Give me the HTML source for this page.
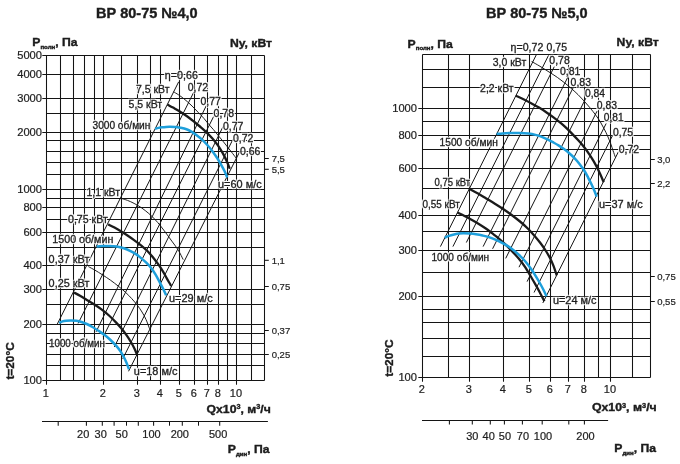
<!DOCTYPE html>
<html lang="ru"><head><meta charset="utf-8"><title>ВР 80-75</title>
<style>
html,body{margin:0;padding:0;background:#fff;}
svg{display:block;font-family:"Liberation Sans", Arial, sans-serif;}
text{white-space:pre;}
.h{filter:url(#halo);}
.h{stroke:#1e1e1e;stroke-width:0.3px;}
.n{stroke:#1e1e1e;stroke-width:0.2px;}
.b{font-weight:bold;stroke:#1c1c1c;stroke-width:0.4px;}
</style></head><body>
<svg width="680" height="464" viewBox="0 0 680 464">
<defs><filter id="halo" color-interpolation-filters="sRGB" x="-10%" y="-30%" width="120%" height="160%"><feMorphology in="SourceAlpha" operator="dilate" radius="1.25" result="d"/><feFlood flood-color="#fff"/><feComposite in2="d" operator="in" result="hh"/><feMerge><feMergeNode in="hh"/><feMergeNode in="SourceGraphic"/></feMerge></filter></defs>
<rect width="680" height="464" fill="#fff"/>
<line x1="46.50" y1="55.50" x2="46.50" y2="384.80" stroke="#141414" stroke-width="1.05" />
<line x1="60.50" y1="55.50" x2="60.50" y2="380.50" stroke="#141414" stroke-width="1.05" />
<line x1="73.50" y1="55.50" x2="73.50" y2="380.50" stroke="#141414" stroke-width="1.05" />
<line x1="84.50" y1="55.50" x2="84.50" y2="380.50" stroke="#141414" stroke-width="1.05" />
<line x1="94.50" y1="55.50" x2="94.50" y2="380.50" stroke="#141414" stroke-width="1.05" />
<line x1="103.50" y1="55.50" x2="103.50" y2="384.80" stroke="#141414" stroke-width="1.05" />
<line x1="121.50" y1="55.50" x2="121.50" y2="380.50" stroke="#141414" stroke-width="1.05" />
<line x1="137.50" y1="55.50" x2="137.50" y2="384.80" stroke="#141414" stroke-width="1.05" />
<line x1="150.50" y1="55.50" x2="150.50" y2="380.50" stroke="#141414" stroke-width="1.05" />
<line x1="160.50" y1="55.50" x2="160.50" y2="384.80" stroke="#141414" stroke-width="1.05" />
<line x1="179.50" y1="55.50" x2="179.50" y2="384.80" stroke="#141414" stroke-width="1.05" />
<line x1="194.50" y1="55.50" x2="194.50" y2="384.80" stroke="#141414" stroke-width="1.05" />
<line x1="207.50" y1="55.50" x2="207.50" y2="384.80" stroke="#141414" stroke-width="1.05" />
<line x1="218.50" y1="55.50" x2="218.50" y2="384.80" stroke="#141414" stroke-width="1.05" />
<line x1="227.50" y1="55.50" x2="227.50" y2="380.50" stroke="#141414" stroke-width="1.05" />
<line x1="236.50" y1="55.50" x2="236.50" y2="384.80" stroke="#141414" stroke-width="1.05" />
<line x1="251.50" y1="55.50" x2="251.50" y2="380.50" stroke="#141414" stroke-width="1.05" />
<line x1="264.50" y1="55.50" x2="264.50" y2="380.50" stroke="#141414" stroke-width="1.05" />
<line x1="42.30" y1="55.50" x2="264.50" y2="55.50" stroke="#141414" stroke-width="1.05" />
<line x1="42.30" y1="74.50" x2="264.50" y2="74.50" stroke="#141414" stroke-width="1.05" />
<line x1="42.30" y1="98.50" x2="264.50" y2="98.50" stroke="#141414" stroke-width="1.05" />
<line x1="46.50" y1="113.50" x2="264.50" y2="113.50" stroke="#141414" stroke-width="1.05" />
<line x1="42.30" y1="132.50" x2="264.50" y2="132.50" stroke="#141414" stroke-width="1.05" />
<line x1="46.50" y1="140.50" x2="264.50" y2="140.50" stroke="#141414" stroke-width="1.05" />
<line x1="46.50" y1="151.50" x2="264.50" y2="151.50" stroke="#141414" stroke-width="1.05" />
<line x1="46.50" y1="162.50" x2="264.50" y2="162.50" stroke="#141414" stroke-width="1.05" />
<line x1="46.50" y1="174.50" x2="264.50" y2="174.50" stroke="#141414" stroke-width="1.05" />
<line x1="42.30" y1="189.50" x2="264.50" y2="189.50" stroke="#141414" stroke-width="1.05" />
<line x1="46.50" y1="198.50" x2="264.50" y2="198.50" stroke="#141414" stroke-width="1.05" />
<line x1="42.30" y1="207.50" x2="264.50" y2="207.50" stroke="#141414" stroke-width="1.05" />
<line x1="46.50" y1="219.50" x2="264.50" y2="219.50" stroke="#141414" stroke-width="1.05" />
<line x1="42.30" y1="232.50" x2="264.50" y2="232.50" stroke="#141414" stroke-width="1.05" />
<line x1="46.50" y1="247.50" x2="264.50" y2="247.50" stroke="#141414" stroke-width="1.05" />
<line x1="42.30" y1="265.50" x2="264.50" y2="265.50" stroke="#141414" stroke-width="1.05" />
<line x1="42.30" y1="289.50" x2="264.50" y2="289.50" stroke="#141414" stroke-width="1.05" />
<line x1="46.50" y1="304.50" x2="264.50" y2="304.50" stroke="#141414" stroke-width="1.05" />
<line x1="42.30" y1="324.50" x2="264.50" y2="324.50" stroke="#141414" stroke-width="1.05" />
<line x1="46.50" y1="333.50" x2="264.50" y2="333.50" stroke="#141414" stroke-width="1.05" />
<line x1="46.50" y1="343.50" x2="264.50" y2="343.50" stroke="#141414" stroke-width="1.05" />
<line x1="46.50" y1="354.50" x2="264.50" y2="354.50" stroke="#141414" stroke-width="1.05" />
<line x1="46.50" y1="365.50" x2="264.50" y2="365.50" stroke="#141414" stroke-width="1.05" />
<line x1="42.30" y1="380.50" x2="264.50" y2="380.50" stroke="#141414" stroke-width="1.05" />
<line x1="422.50" y1="54.50" x2="422.50" y2="381.80" stroke="#141414" stroke-width="1.05" />
<line x1="448.50" y1="54.50" x2="448.50" y2="377.50" stroke="#141414" stroke-width="1.05" />
<line x1="469.50" y1="54.50" x2="469.50" y2="381.80" stroke="#141414" stroke-width="1.05" />
<line x1="503.50" y1="54.50" x2="503.50" y2="381.80" stroke="#141414" stroke-width="1.05" />
<line x1="529.50" y1="54.50" x2="529.50" y2="381.80" stroke="#141414" stroke-width="1.05" />
<line x1="550.50" y1="54.50" x2="550.50" y2="381.80" stroke="#141414" stroke-width="1.05" />
<line x1="568.50" y1="54.50" x2="568.50" y2="381.80" stroke="#141414" stroke-width="1.05" />
<line x1="584.50" y1="54.50" x2="584.50" y2="381.80" stroke="#141414" stroke-width="1.05" />
<line x1="598.50" y1="54.50" x2="598.50" y2="377.50" stroke="#141414" stroke-width="1.05" />
<line x1="610.50" y1="54.50" x2="610.50" y2="381.80" stroke="#141414" stroke-width="1.05" />
<line x1="632.50" y1="54.50" x2="632.50" y2="377.50" stroke="#141414" stroke-width="1.05" />
<line x1="650.50" y1="54.50" x2="650.50" y2="377.50" stroke="#141414" stroke-width="1.05" />
<line x1="422.50" y1="54.50" x2="650.50" y2="54.50" stroke="#141414" stroke-width="1.05" />
<line x1="422.50" y1="69.50" x2="650.50" y2="69.50" stroke="#141414" stroke-width="1.05" />
<line x1="422.50" y1="87.50" x2="650.50" y2="87.50" stroke="#141414" stroke-width="1.05" />
<line x1="418.30" y1="108.50" x2="650.50" y2="108.50" stroke="#141414" stroke-width="1.05" />
<line x1="422.50" y1="121.50" x2="650.50" y2="121.50" stroke="#141414" stroke-width="1.05" />
<line x1="418.30" y1="135.50" x2="650.50" y2="135.50" stroke="#141414" stroke-width="1.05" />
<line x1="422.50" y1="149.50" x2="650.50" y2="149.50" stroke="#141414" stroke-width="1.05" />
<line x1="418.30" y1="168.50" x2="650.50" y2="168.50" stroke="#141414" stroke-width="1.05" />
<line x1="422.50" y1="188.50" x2="650.50" y2="188.50" stroke="#141414" stroke-width="1.05" />
<line x1="418.30" y1="215.50" x2="650.50" y2="215.50" stroke="#141414" stroke-width="1.05" />
<line x1="422.50" y1="231.50" x2="650.50" y2="231.50" stroke="#141414" stroke-width="1.05" />
<line x1="418.30" y1="250.50" x2="650.50" y2="250.50" stroke="#141414" stroke-width="1.05" />
<line x1="422.50" y1="272.50" x2="650.50" y2="272.50" stroke="#141414" stroke-width="1.05" />
<line x1="418.30" y1="296.50" x2="650.50" y2="296.50" stroke="#141414" stroke-width="1.05" />
<line x1="422.50" y1="309.50" x2="650.50" y2="309.50" stroke="#141414" stroke-width="1.05" />
<line x1="422.50" y1="322.50" x2="650.50" y2="322.50" stroke="#141414" stroke-width="1.05" />
<line x1="422.50" y1="338.50" x2="650.50" y2="338.50" stroke="#141414" stroke-width="1.05" />
<line x1="422.50" y1="356.50" x2="650.50" y2="356.50" stroke="#141414" stroke-width="1.05" />
<line x1="418.30" y1="377.50" x2="650.50" y2="377.50" stroke="#141414" stroke-width="1.05" />
<line x1="56.88" y1="324.90" x2="178.70" y2="81.80" stroke="#141414" stroke-width="1.0" />
<line x1="78.13" y1="323.43" x2="193.80" y2="92.10" stroke="#141414" stroke-width="1.0" />
<line x1="96.06" y1="331.87" x2="206.80" y2="104.60" stroke="#141414" stroke-width="1.0" />
<line x1="103.26" y1="336.70" x2="214.80" y2="114.20" stroke="#141414" stroke-width="1.0" />
<line x1="114.34" y1="346.99" x2="223.15" y2="126.40" stroke="#141414" stroke-width="1.0" />
<line x1="122.71" y1="358.85" x2="232.90" y2="139.40" stroke="#141414" stroke-width="1.0" />
<line x1="128.53" y1="371.30" x2="239.60" y2="151.90" stroke="#141414" stroke-width="1.0" />
<path d="M88.40,266.60 C89.50,267.20 92.67,268.83 95.00,270.20 C97.33,271.57 99.82,273.13 102.40,274.80 C104.98,276.47 107.82,278.28 110.50,280.20 C113.18,282.12 116.00,284.28 118.50,286.30 C121.00,288.32 123.28,290.23 125.50,292.30 C127.72,294.37 129.83,296.55 131.80,298.70 C133.77,300.85 135.60,302.98 137.30,305.20 C139.00,307.42 140.55,309.62 142.00,312.00 C143.45,314.38 144.73,316.70 146.00,319.50 C147.27,322.30 149.00,327.25 149.60,328.80" fill="none" stroke="#141414" stroke-width="0.95" stroke-linecap="butt"/>
<path d="M121.60,198.50 C122.58,198.82 125.42,199.58 127.50,200.40 C129.58,201.22 131.77,202.17 134.10,203.40 C136.43,204.63 139.05,206.12 141.50,207.80 C143.95,209.48 146.55,211.55 148.80,213.50 C151.05,215.45 153.03,217.42 155.00,219.50 C156.97,221.58 158.63,223.55 160.60,226.00 C162.57,228.45 164.83,231.55 166.80,234.20 C168.77,236.85 170.48,239.23 172.40,241.90 C174.32,244.57 176.50,247.25 178.30,250.20 C180.10,253.15 182.38,258.03 183.20,259.60" fill="none" stroke="#141414" stroke-width="0.95" stroke-linecap="butt"/>
<path d="M173.50,91.80 C174.33,92.30 176.78,93.65 178.50,94.80 C180.22,95.95 181.72,97.00 183.80,98.70 C185.88,100.40 188.53,102.65 191.00,105.00 C193.47,107.35 196.43,110.55 198.60,112.80 C200.77,115.05 202.30,116.57 204.00,118.50 C205.70,120.43 207.22,122.53 208.80,124.40 C210.38,126.27 211.92,127.83 213.50,129.70 C215.08,131.57 216.63,133.57 218.30,135.60 C219.97,137.63 221.80,139.80 223.50,141.90 C225.20,144.00 226.95,146.23 228.50,148.20 C230.05,150.17 231.42,151.90 232.80,153.70 C234.18,155.50 236.13,158.12 236.80,159.00" fill="none" stroke="#141414" stroke-width="0.95" stroke-linecap="butt"/>
<path d="M74.00,292.50 C75.00,293.05 77.87,294.57 80.00,295.80 C82.13,297.03 84.47,298.48 86.80,299.90 C89.13,301.32 91.55,302.72 94.00,304.30 C96.45,305.88 99.00,307.53 101.50,309.40 C104.00,311.27 106.55,313.30 109.00,315.50 C111.45,317.70 114.12,320.42 116.20,322.60 C118.28,324.78 119.78,326.50 121.50,328.60 C123.22,330.70 124.88,332.88 126.50,335.20 C128.12,337.52 129.88,340.28 131.20,342.50 C132.52,344.72 133.47,346.57 134.40,348.50 C135.33,350.43 136.40,353.17 136.80,354.10" fill="none" stroke="#1a1a1a" stroke-width="2.3" stroke-linecap="butt"/>
<path d="M108.20,224.40 C109.25,224.93 112.38,226.45 114.50,227.60 C116.62,228.75 118.73,229.98 120.90,231.30 C123.07,232.62 125.30,234.03 127.50,235.50 C129.70,236.97 131.85,238.47 134.10,240.10 C136.35,241.73 138.78,243.48 141.00,245.30 C143.22,247.12 145.32,248.88 147.40,251.00 C149.48,253.12 151.50,255.52 153.50,258.00 C155.50,260.48 157.73,263.52 159.40,265.90 C161.07,268.28 162.27,270.22 163.50,272.30 C164.73,274.38 165.83,276.65 166.80,278.40 C167.77,280.15 168.57,281.53 169.30,282.80 C170.03,284.07 170.88,285.47 171.20,286.00" fill="none" stroke="#1a1a1a" stroke-width="2.3" stroke-linecap="butt"/>
<path d="M167.40,104.60 C168.33,105.10 171.00,106.50 173.00,107.60 C175.00,108.70 177.07,109.75 179.40,111.20 C181.73,112.65 184.50,114.50 187.00,116.30 C189.50,118.10 192.15,120.22 194.40,122.00 C196.65,123.78 198.48,125.28 200.50,127.00 C202.52,128.72 204.58,130.47 206.50,132.30 C208.42,134.13 210.28,136.07 212.00,138.00 C213.72,139.93 215.33,141.93 216.80,143.90 C218.27,145.87 219.58,147.85 220.80,149.80 C222.02,151.75 223.07,153.60 224.10,155.60 C225.13,157.60 226.05,159.60 227.00,161.80 C227.95,164.00 229.33,167.63 229.80,168.80" fill="none" stroke="#1a1a1a" stroke-width="2.3" stroke-linecap="butt"/>
<path d="M59.10,322.90 C59.67,322.65 61.32,321.77 62.50,321.40 C63.68,321.03 64.78,320.87 66.20,320.70 C67.62,320.53 69.28,320.38 71.00,320.40 C72.72,320.42 74.75,320.53 76.50,320.80 C78.25,321.07 79.78,321.47 81.50,322.00 C83.22,322.53 84.97,323.17 86.80,324.00 C88.63,324.83 90.55,325.87 92.50,327.00 C94.45,328.13 96.47,329.47 98.50,330.80 C100.53,332.13 102.70,333.47 104.70,335.00 C106.70,336.53 108.53,338.13 110.50,340.00 C112.47,341.87 114.83,344.30 116.50,346.20 C118.17,348.10 119.28,349.60 120.50,351.40 C121.72,353.20 122.78,355.08 123.80,357.00 C124.82,358.92 125.73,360.85 126.60,362.90 C127.47,364.95 128.60,368.23 129.00,369.30" fill="none" stroke="#1E9FDB" stroke-width="2.5" stroke-linecap="butt"/>
<path d="M96.60,246.50 C97.50,246.43 99.92,246.18 102.00,246.10 C104.08,246.02 106.68,245.93 109.10,246.00 C111.52,246.07 114.05,246.13 116.50,246.50 C118.95,246.87 121.55,247.48 123.80,248.20 C126.05,248.92 128.03,249.85 130.00,250.80 C131.97,251.75 133.85,252.77 135.60,253.90 C137.35,255.03 138.77,256.18 140.50,257.60 C142.23,259.02 144.28,260.75 146.00,262.40 C147.72,264.05 149.25,265.53 150.80,267.50 C152.35,269.47 153.85,271.82 155.30,274.20 C156.75,276.58 158.22,279.42 159.50,281.80 C160.78,284.18 161.90,286.27 163.00,288.50 C164.10,290.73 165.58,294.08 166.10,295.20" fill="none" stroke="#1E9FDB" stroke-width="2.5" stroke-linecap="butt"/>
<path d="M155.10,128.80 C155.67,128.65 157.35,128.15 158.50,127.90 C159.65,127.65 160.75,127.47 162.00,127.30 C163.25,127.13 164.67,126.98 166.00,126.90 C167.33,126.82 168.50,126.78 170.00,126.80 C171.50,126.82 173.33,126.85 175.00,127.00 C176.67,127.15 178.08,127.33 180.00,127.70 C181.92,128.07 184.53,128.52 186.50,129.20 C188.47,129.88 190.05,130.77 191.80,131.80 C193.55,132.83 195.28,134.10 197.00,135.40 C198.72,136.70 200.38,138.00 202.10,139.60 C203.82,141.20 205.58,143.07 207.30,145.00 C209.02,146.93 210.78,149.07 212.40,151.20 C214.02,153.33 215.53,155.53 217.00,157.80 C218.47,160.07 219.95,162.60 221.20,164.80 C222.45,167.00 223.50,168.90 224.50,171.00 C225.50,173.10 226.75,176.33 227.20,177.40" fill="none" stroke="#1E9FDB" stroke-width="2.5" stroke-linecap="butt"/>
<line x1="440.40" y1="246.60" x2="536.25" y2="54.90" stroke="#141414" stroke-width="1.0" />
<line x1="452.90" y1="246.60" x2="548.50" y2="55.40" stroke="#141414" stroke-width="1.0" />
<line x1="466.35" y1="242.50" x2="554.25" y2="66.70" stroke="#141414" stroke-width="1.0" />
<line x1="483.10" y1="246.60" x2="567.90" y2="77.00" stroke="#141414" stroke-width="1.0" />
<line x1="492.60" y1="248.80" x2="573.30" y2="87.40" stroke="#141414" stroke-width="1.0" />
<line x1="505.70" y1="258.40" x2="585.80" y2="98.20" stroke="#141414" stroke-width="1.0" />
<line x1="519.00" y1="267.20" x2="597.00" y2="111.20" stroke="#141414" stroke-width="1.0" />
<line x1="527.10" y1="281.60" x2="606.15" y2="123.50" stroke="#141414" stroke-width="1.0" />
<line x1="534.05" y1="292.50" x2="612.60" y2="135.40" stroke="#141414" stroke-width="1.0" />
<line x1="542.80" y1="303.00" x2="618.50" y2="151.60" stroke="#141414" stroke-width="1.0" />
<path d="M531.60,61.50 C533.00,62.30 536.93,64.45 540.00,66.30 C543.07,68.15 547.08,70.73 550.00,72.60 C552.92,74.47 555.05,75.78 557.50,77.50 C559.95,79.22 562.32,81.00 564.70,82.90 C567.08,84.80 569.58,86.95 571.80,88.90 C574.02,90.85 575.95,92.58 578.00,94.60 C580.05,96.62 582.10,98.80 584.10,101.00 C586.10,103.20 588.03,105.42 590.00,107.80 C591.97,110.18 594.18,112.97 595.90,115.30 C597.62,117.63 598.93,119.55 600.30,121.80 C601.67,124.05 602.88,126.43 604.10,128.80 C605.32,131.17 606.47,133.43 607.60,136.00 C608.73,138.57 610.00,141.78 610.90,144.20 C611.80,146.62 612.23,148.27 613.00,150.50 C613.77,152.73 615.08,156.42 615.50,157.60" fill="none" stroke="#141414" stroke-width="0.95" stroke-linecap="butt"/>
<path d="M515.70,95.70 C517.00,96.28 520.87,97.92 523.50,99.20 C526.13,100.48 528.92,102.00 531.50,103.40 C534.08,104.80 536.55,106.13 539.00,107.60 C541.45,109.07 543.78,110.57 546.20,112.20 C548.62,113.83 551.05,115.57 553.50,117.40 C555.95,119.23 558.73,121.40 560.90,123.20 C563.07,125.00 564.62,126.42 566.50,128.20 C568.38,129.98 570.20,131.83 572.20,133.90 C574.20,135.97 576.50,138.38 578.50,140.60 C580.50,142.82 582.45,145.00 584.20,147.20 C585.95,149.40 587.43,151.48 589.00,153.80 C590.57,156.12 592.23,158.77 593.60,161.10 C594.97,163.43 596.08,165.60 597.20,167.80 C598.32,170.00 599.22,171.90 600.30,174.30 C601.38,176.70 603.13,180.88 603.70,182.20" fill="none" stroke="#1a1a1a" stroke-width="2.3" stroke-linecap="butt"/>
<path d="M469.30,188.80 C470.75,189.60 475.18,191.98 478.00,193.60 C480.82,195.22 483.45,196.85 486.20,198.50 C488.95,200.15 491.80,201.83 494.50,203.50 C497.20,205.17 499.65,206.67 502.40,208.50 C505.15,210.33 508.07,212.33 511.00,214.50 C513.93,216.67 517.25,219.22 520.00,221.50 C522.75,223.78 525.17,225.92 527.50,228.20 C529.83,230.48 531.88,232.77 534.00,235.20 C536.12,237.63 538.32,240.33 540.20,242.80 C542.08,245.27 543.72,247.55 545.30,250.00 C546.88,252.45 548.33,254.87 549.70,257.50 C551.07,260.13 552.33,262.83 553.50,265.80 C554.67,268.77 556.17,273.72 556.70,275.30" fill="none" stroke="#1a1a1a" stroke-width="2.3" stroke-linecap="butt"/>
<path d="M457.50,212.60 C458.67,213.17 462.17,214.80 464.50,216.00 C466.83,217.20 469.12,218.47 471.50,219.80 C473.88,221.13 476.35,222.50 478.80,224.00 C481.25,225.50 484.00,227.27 486.20,228.80 C488.40,230.33 490.03,231.70 492.00,233.20 C493.97,234.70 495.92,236.05 498.00,237.80 C500.08,239.55 502.25,241.57 504.50,243.70 C506.75,245.83 509.17,248.17 511.50,250.60 C513.83,253.03 516.25,255.58 518.50,258.30 C520.75,261.02 522.80,263.62 525.00,266.90 C527.20,270.18 529.87,274.90 531.70,278.00 C533.53,281.10 534.68,283.17 536.00,285.50 C537.32,287.83 538.20,289.38 539.60,292.00 C541.00,294.62 543.60,299.67 544.40,301.20" fill="none" stroke="#1a1a1a" stroke-width="2.3" stroke-linecap="butt"/>
<path d="M496.60,133.90 C497.58,133.82 500.37,133.53 502.50,133.40 C504.63,133.27 506.65,133.17 509.40,133.10 C512.15,133.03 515.82,132.92 519.00,133.00 C522.18,133.08 525.75,133.28 528.50,133.60 C531.25,133.92 533.28,134.35 535.50,134.90 C537.72,135.45 539.72,136.12 541.80,136.90 C543.88,137.68 546.05,138.67 548.00,139.60 C549.95,140.53 551.75,141.53 553.50,142.50 C555.25,143.47 556.87,144.38 558.50,145.40 C560.13,146.42 561.55,147.33 563.30,148.60 C565.05,149.87 567.10,151.37 569.00,153.00 C570.90,154.63 572.95,156.57 574.70,158.40 C576.45,160.23 577.92,161.98 579.50,164.00 C581.08,166.02 582.78,168.28 584.20,170.50 C585.62,172.72 586.75,174.92 588.00,177.30 C589.25,179.68 590.65,182.58 591.70,184.80 C592.75,187.02 593.47,188.63 594.30,190.60 C595.13,192.57 596.30,195.60 596.70,196.60" fill="none" stroke="#1E9FDB" stroke-width="2.5" stroke-linecap="butt"/>
<path d="M444.70,237.80 C445.42,237.48 447.45,236.45 449.00,235.90 C450.55,235.35 452.33,234.90 454.00,234.50 C455.67,234.10 457.33,233.70 459.00,233.50 C460.67,233.30 462.17,233.28 464.00,233.30 C465.83,233.32 468.00,233.43 470.00,233.60 C472.00,233.77 473.92,233.98 476.00,234.30 C478.08,234.62 480.37,235.03 482.50,235.50 C484.63,235.97 486.55,236.37 488.80,237.10 C491.05,237.83 493.55,238.80 496.00,239.90 C498.45,241.00 501.00,242.30 503.50,243.70 C506.00,245.10 508.55,246.55 511.00,248.30 C513.45,250.05 515.80,252.00 518.20,254.20 C520.60,256.40 523.30,259.12 525.40,261.50 C527.50,263.88 529.05,266.03 530.80,268.50 C532.55,270.97 534.40,273.88 535.90,276.30 C537.40,278.72 538.57,280.80 539.80,283.00 C541.03,285.20 542.18,287.30 543.30,289.50 C544.42,291.70 545.97,295.08 546.50,296.20" fill="none" stroke="#1E9FDB" stroke-width="2.5" stroke-linecap="butt"/>
<text transform="translate(42.00,59.30) scale(1.1150,1)" text-anchor="end" style="font-size:10.0px" fill="#1e1e1e" class="n">5000</text>
<text transform="translate(42.00,78.30) scale(1.1150,1)" text-anchor="end" style="font-size:10.0px" fill="#1e1e1e" class="n">4000</text>
<text transform="translate(42.00,102.30) scale(1.1150,1)" text-anchor="end" style="font-size:10.0px" fill="#1e1e1e" class="n">3000</text>
<text transform="translate(42.00,136.30) scale(1.1150,1)" text-anchor="end" style="font-size:10.0px" fill="#1e1e1e" class="n">2000</text>
<text transform="translate(42.00,193.30) scale(1.1150,1)" text-anchor="end" style="font-size:10.0px" fill="#1e1e1e" class="n">1000</text>
<text transform="translate(42.00,211.30) scale(1.1150,1)" text-anchor="end" style="font-size:10.0px" fill="#1e1e1e" class="n">800</text>
<text transform="translate(42.00,236.30) scale(1.1150,1)" text-anchor="end" style="font-size:10.0px" fill="#1e1e1e" class="n">600</text>
<text transform="translate(42.00,269.30) scale(1.1150,1)" text-anchor="end" style="font-size:10.0px" fill="#1e1e1e" class="n">400</text>
<text transform="translate(42.00,293.30) scale(1.1150,1)" text-anchor="end" style="font-size:10.0px" fill="#1e1e1e" class="n">300</text>
<text transform="translate(42.00,328.30) scale(1.1150,1)" text-anchor="end" style="font-size:10.0px" fill="#1e1e1e" class="n">200</text>
<text transform="translate(42.00,384.30) scale(1.1150,1)" text-anchor="end" style="font-size:10.0px" fill="#1e1e1e" class="n">100</text>
<text transform="translate(417.00,112.30) scale(1.1150,1)" text-anchor="end" style="font-size:10.0px" fill="#1e1e1e" class="n">1000</text>
<text transform="translate(417.00,139.30) scale(1.1150,1)" text-anchor="end" style="font-size:10.0px" fill="#1e1e1e" class="n">800</text>
<text transform="translate(417.00,172.30) scale(1.1150,1)" text-anchor="end" style="font-size:10.0px" fill="#1e1e1e" class="n">600</text>
<text transform="translate(417.00,219.30) scale(1.1150,1)" text-anchor="end" style="font-size:10.0px" fill="#1e1e1e" class="n">400</text>
<text transform="translate(417.00,254.30) scale(1.1150,1)" text-anchor="end" style="font-size:10.0px" fill="#1e1e1e" class="n">300</text>
<text transform="translate(417.00,300.30) scale(1.1150,1)" text-anchor="end" style="font-size:10.0px" fill="#1e1e1e" class="n">200</text>
<text transform="translate(417.00,381.30) scale(1.1150,1)" text-anchor="end" style="font-size:10.0px" fill="#1e1e1e" class="n">100</text>
<text transform="translate(45.90,397.40) scale(1.1000,1)" text-anchor="middle" style="font-size:10.0px" fill="#1e1e1e" class="n">1</text>
<text transform="translate(102.90,397.40) scale(1.1000,1)" text-anchor="middle" style="font-size:10.0px" fill="#1e1e1e" class="n">2</text>
<text transform="translate(136.90,397.40) scale(1.1000,1)" text-anchor="middle" style="font-size:10.0px" fill="#1e1e1e" class="n">3</text>
<text transform="translate(159.90,397.40) scale(1.1000,1)" text-anchor="middle" style="font-size:10.0px" fill="#1e1e1e" class="n">4</text>
<text transform="translate(178.90,397.40) scale(1.1000,1)" text-anchor="middle" style="font-size:10.0px" fill="#1e1e1e" class="n">5</text>
<text transform="translate(193.90,397.40) scale(1.1000,1)" text-anchor="middle" style="font-size:10.0px" fill="#1e1e1e" class="n">6</text>
<text transform="translate(206.90,397.40) scale(1.1000,1)" text-anchor="middle" style="font-size:10.0px" fill="#1e1e1e" class="n">7</text>
<text transform="translate(217.90,397.40) scale(1.1000,1)" text-anchor="middle" style="font-size:10.0px" fill="#1e1e1e" class="n">8</text>
<text transform="translate(235.90,397.40) scale(1.1000,1)" text-anchor="middle" style="font-size:10.0px" fill="#1e1e1e" class="n">10</text>
<text transform="translate(421.90,392.90) scale(1.1000,1)" text-anchor="middle" style="font-size:10.0px" fill="#1e1e1e" class="n">2</text>
<text transform="translate(468.90,392.90) scale(1.1000,1)" text-anchor="middle" style="font-size:10.0px" fill="#1e1e1e" class="n">3</text>
<text transform="translate(502.90,392.90) scale(1.1000,1)" text-anchor="middle" style="font-size:10.0px" fill="#1e1e1e" class="n">4</text>
<text transform="translate(528.90,392.90) scale(1.1000,1)" text-anchor="middle" style="font-size:10.0px" fill="#1e1e1e" class="n">5</text>
<text transform="translate(549.90,392.90) scale(1.1000,1)" text-anchor="middle" style="font-size:10.0px" fill="#1e1e1e" class="n">6</text>
<text transform="translate(567.90,392.90) scale(1.1000,1)" text-anchor="middle" style="font-size:10.0px" fill="#1e1e1e" class="n">7</text>
<text transform="translate(583.90,392.90) scale(1.1000,1)" text-anchor="middle" style="font-size:10.0px" fill="#1e1e1e" class="n">8</text>
<text transform="translate(609.90,392.90) scale(1.1000,1)" text-anchor="middle" style="font-size:10.0px" fill="#1e1e1e" class="n">10</text>
<line x1="264.50" y1="158.50" x2="268.80" y2="158.50" stroke="#141414" stroke-width="1.05" />
<text transform="translate(271.70,162.00) scale(0.9800,1)" text-anchor="start" style="font-size:9.7px" fill="#1e1e1e" class="n">7,5</text>
<line x1="264.50" y1="169.30" x2="268.80" y2="169.30" stroke="#141414" stroke-width="1.05" />
<text transform="translate(271.70,172.80) scale(0.9800,1)" text-anchor="start" style="font-size:9.7px" fill="#1e1e1e" class="n">5,5</text>
<line x1="264.50" y1="260.30" x2="268.80" y2="260.30" stroke="#141414" stroke-width="1.05" />
<text transform="translate(271.70,263.80) scale(0.9800,1)" text-anchor="start" style="font-size:9.7px" fill="#1e1e1e" class="n">1,1</text>
<line x1="264.50" y1="286.50" x2="268.80" y2="286.50" stroke="#141414" stroke-width="1.05" />
<text transform="translate(271.70,290.00) scale(0.9800,1)" text-anchor="start" style="font-size:9.7px" fill="#1e1e1e" class="n">0,75</text>
<line x1="264.50" y1="330.50" x2="268.80" y2="330.50" stroke="#141414" stroke-width="1.05" />
<text transform="translate(271.70,334.00) scale(0.9800,1)" text-anchor="start" style="font-size:9.7px" fill="#1e1e1e" class="n">0,37</text>
<line x1="264.50" y1="354.50" x2="268.80" y2="354.50" stroke="#141414" stroke-width="1.05" />
<text transform="translate(271.70,358.00) scale(0.9800,1)" text-anchor="start" style="font-size:9.7px" fill="#1e1e1e" class="n">0,25</text>
<line x1="650.50" y1="159.50" x2="654.80" y2="159.50" stroke="#141414" stroke-width="1.05" />
<text transform="translate(657.20,163.00) scale(0.9800,1)" text-anchor="start" style="font-size:9.7px" fill="#1e1e1e" class="n">3,0</text>
<line x1="650.50" y1="183.50" x2="654.80" y2="183.50" stroke="#141414" stroke-width="1.05" />
<text transform="translate(657.20,187.00) scale(0.9800,1)" text-anchor="start" style="font-size:9.7px" fill="#1e1e1e" class="n">2,2</text>
<line x1="650.50" y1="276.50" x2="654.80" y2="276.50" stroke="#141414" stroke-width="1.05" />
<text transform="translate(657.20,280.00) scale(0.9800,1)" text-anchor="start" style="font-size:9.7px" fill="#1e1e1e" class="n">0,75</text>
<line x1="650.50" y1="301.50" x2="654.80" y2="301.50" stroke="#141414" stroke-width="1.05" />
<text transform="translate(657.20,305.00) scale(0.9800,1)" text-anchor="start" style="font-size:9.7px" fill="#1e1e1e" class="n">0,55</text>
<text transform="translate(164.80,78.50) scale(1.0710,1)" text-anchor="start" style="font-size:10.0px" fill="#1e1e1e" class="h">η=0,66</text>
<text transform="translate(136.00,92.50) scale(1.0500,1)" text-anchor="start" style="font-size:10.0px" fill="#1e1e1e" class="h">7,5 кВт</text>
<text transform="translate(128.60,107.50) scale(1.0500,1)" text-anchor="start" style="font-size:10.0px" fill="#1e1e1e" class="h">5,5 кВт</text>
<text transform="translate(92.50,129.00) scale(1.0151,1)" text-anchor="start" style="font-size:10.0px" fill="#1e1e1e" class="h">3000 об/мин</text>
<text transform="translate(187.70,91.40) scale(1.0500,1)" text-anchor="start" style="font-size:10.0px" fill="#1e1e1e" class="h">0,72</text>
<text transform="translate(200.50,105.40) scale(1.0500,1)" text-anchor="start" style="font-size:10.0px" fill="#1e1e1e" class="h">0,77</text>
<text transform="translate(213.60,117.30) scale(1.0500,1)" text-anchor="start" style="font-size:10.0px" fill="#1e1e1e" class="h">0,78</text>
<text transform="translate(222.90,130.00) scale(1.0500,1)" text-anchor="start" style="font-size:10.0px" fill="#1e1e1e" class="h">0,77</text>
<text transform="translate(233.00,142.40) scale(1.0500,1)" text-anchor="start" style="font-size:10.0px" fill="#1e1e1e" class="h">0,72</text>
<text transform="translate(240.00,154.50) scale(1.0500,1)" text-anchor="start" style="font-size:10.0px" fill="#1e1e1e" class="h">0,66</text>
<text transform="translate(218.00,187.50) scale(1.0950,1)" text-anchor="start" style="font-size:10.0px" fill="#1e1e1e" class="h">u=60 м/с</text>
<text transform="translate(86.40,195.80) scale(1.0500,1)" text-anchor="start" style="font-size:10.0px" fill="#1e1e1e" class="h">1,1 кВт</text>
<text transform="translate(68.00,222.80) scale(1.0605,1)" text-anchor="start" style="font-size:10.0px" fill="#1e1e1e" class="h">0,75 кВт</text>
<text transform="translate(52.30,242.50) scale(1.0692,1)" text-anchor="start" style="font-size:10.0px" fill="#1e1e1e" class="h">1500 об/мин</text>
<text transform="translate(48.60,263.30) scale(1.0871,1)" text-anchor="start" style="font-size:10.0px" fill="#1e1e1e" class="h">0,37 кВт</text>
<text transform="translate(48.60,286.60) scale(1.0871,1)" text-anchor="start" style="font-size:10.0px" fill="#1e1e1e" class="h">0,25 кВт</text>
<text transform="translate(49.00,346.50) scale(0.9819,1)" text-anchor="start" style="font-size:10.0px" fill="#1e1e1e" class="h">1000 об/мин</text>
<text transform="translate(169.00,302.00) scale(1.0950,1)" text-anchor="start" style="font-size:10.0px" fill="#1e1e1e" class="h">u=29 м/с</text>
<text transform="translate(133.80,375.30) scale(1.0950,1)" text-anchor="start" style="font-size:10.0px" fill="#1e1e1e" class="h">u=18 м/с</text>
<text transform="translate(510.60,50.90) scale(1.0605,1)" text-anchor="start" style="font-size:10.0px" fill="#1e1e1e" class="h">η=0,72</text>
<text transform="translate(546.60,50.90) scale(1.0500,1)" text-anchor="start" style="font-size:10.0px" fill="#1e1e1e" class="h">0,75</text>
<text transform="translate(492.70,65.60) scale(1.0500,1)" text-anchor="start" style="font-size:10.0px" fill="#1e1e1e" class="h">3,0 кВт</text>
<text transform="translate(480.10,91.50) scale(1.0500,1)" text-anchor="start" style="font-size:10.0px" fill="#1e1e1e" class="h">2,2 кВт</text>
<text transform="translate(549.30,64.00) scale(1.0500,1)" text-anchor="start" style="font-size:10.0px" fill="#1e1e1e" class="h">0,78</text>
<text transform="translate(560.00,75.00) scale(1.0500,1)" text-anchor="start" style="font-size:10.0px" fill="#1e1e1e" class="h">0,81</text>
<text transform="translate(570.60,85.70) scale(1.0500,1)" text-anchor="start" style="font-size:10.0px" fill="#1e1e1e" class="h">0,83</text>
<text transform="translate(585.00,96.70) scale(1.0290,1)" text-anchor="start" style="font-size:10.0px" fill="#1e1e1e" class="h">0,84</text>
<text transform="translate(596.80,108.80) scale(1.0395,1)" text-anchor="start" style="font-size:10.0px" fill="#1e1e1e" class="h">0,83</text>
<text transform="translate(603.80,121.00) scale(1.0185,1)" text-anchor="start" style="font-size:10.0px" fill="#1e1e1e" class="h">0,81</text>
<text transform="translate(612.90,135.70) scale(1.0395,1)" text-anchor="start" style="font-size:10.0px" fill="#1e1e1e" class="h">0,75</text>
<text transform="translate(618.70,153.20) scale(1.0500,1)" text-anchor="start" style="font-size:10.0px" fill="#1e1e1e" class="h">0,72</text>
<text transform="translate(439.60,145.90) scale(1.0203,1)" text-anchor="start" style="font-size:10.0px" fill="#1e1e1e" class="h">1500 об/мин</text>
<text transform="translate(599.00,208.20) scale(1.0950,1)" text-anchor="start" style="font-size:10.0px" fill="#1e1e1e" class="h">u=37 м/с</text>
<text transform="translate(434.50,186.00) scale(0.9519,1)" text-anchor="start" style="font-size:10.0px" fill="#1e1e1e" class="h">0,75 кВт</text>
<text transform="translate(422.60,207.60) scale(0.9917,1)" text-anchor="start" style="font-size:10.0px" fill="#1e1e1e" class="h">0,55 кВт</text>
<text transform="translate(431.50,261.10) scale(1.0116,1)" text-anchor="start" style="font-size:10.0px" fill="#1e1e1e" class="h">1000 об/мин</text>
<text transform="translate(552.90,304.10) scale(1.0950,1)" text-anchor="start" style="font-size:10.0px" fill="#1e1e1e" class="h">u=24 м/с</text>
<text x="96.00" y="17.60" text-anchor="start" style="font-size:14.5px;font-weight:bold;" fill="#1c1c1c" class="b">ВР 80-75 №4,0</text>
<text x="486.00" y="17.60" text-anchor="start" style="font-size:14.5px;font-weight:bold;" fill="#1c1c1c" class="b">ВР 80-75 №5,0</text>
<text transform="translate(32.30,46.30) scale(1.07,1)" class="b" style="font-size:11.4px" fill="#1c1c1c">P<tspan dy="2.4" style="font-size:5.7px">полн</tspan><tspan dy="-2.4">, Па</tspan></text>
<text transform="translate(407.60,47.70) scale(1.07,1)" class="b" style="font-size:11.4px" fill="#1c1c1c">P<tspan dy="2.4" style="font-size:5.7px">полн</tspan><tspan dy="-2.4">, Па</tspan></text>
<text transform="translate(229.90,46.80) scale(1.07,1)" class="b" style="font-size:11.4px" fill="#1c1c1c">Ny, кВт</text>
<text transform="translate(616.60,46.40) scale(1.07,1)" class="b" style="font-size:11.4px" fill="#1c1c1c">Ny, кВт</text>
<text transform="translate(206.60,412.90) scale(1.07,1)" class="b" style="font-size:11.4px" fill="#1c1c1c">Qx10<tspan dy="-3.6" style="font-size:6.8px">3</tspan><tspan dy="3.6">, м</tspan><tspan dy="-3.6" style="font-size:6.8px">3</tspan><tspan dy="3.6">/ч</tspan></text>
<text transform="translate(591.90,411.10) scale(1.08,1)" class="b" style="font-size:11.4px" fill="#1c1c1c">Qx10<tspan dy="-3.6" style="font-size:6.8px">3</tspan><tspan dy="3.6">, м</tspan><tspan dy="-3.6" style="font-size:6.8px">3</tspan><tspan dy="3.6">/ч</tspan></text>
<text transform="translate(227.80,453.40) scale(1.07,1)" class="b" style="font-size:11.4px" fill="#1c1c1c">P<tspan dy="2.4" style="font-size:5.7px">дин</tspan><tspan dy="-2.4">, Па</tspan></text>
<text transform="translate(614.30,452.40) scale(1.07,1)" class="b" style="font-size:11.4px" fill="#1c1c1c">P<tspan dy="2.4" style="font-size:5.7px">дин</tspan><tspan dy="-2.4">, Па</tspan></text>
<text transform="translate(14.40,379.60) rotate(-90) scale(1.04,1)" class="b" style="font-size:11.4px" fill="#1c1c1c">t=20°C</text>
<text transform="translate(392.70,376.80) rotate(-90) scale(1.04,1)" class="b" style="font-size:11.4px" fill="#1c1c1c">t=20°C</text>
<line x1="42.00" y1="421.50" x2="267.90" y2="421.50" stroke="#141414" stroke-width="1.05" />
<line x1="58.20" y1="421.50" x2="58.20" y2="425.70" stroke="#141414" stroke-width="1.05" />
<line x1="86.40" y1="421.50" x2="86.40" y2="425.70" stroke="#141414" stroke-width="1.05" />
<line x1="102.30" y1="421.50" x2="102.30" y2="425.70" stroke="#141414" stroke-width="1.05" />
<line x1="114.10" y1="421.50" x2="114.10" y2="425.70" stroke="#141414" stroke-width="1.05" />
<line x1="126.50" y1="421.50" x2="126.50" y2="425.70" stroke="#141414" stroke-width="1.05" />
<line x1="138.30" y1="421.50" x2="138.30" y2="425.70" stroke="#141414" stroke-width="1.05" />
<line x1="153.60" y1="421.50" x2="153.60" y2="425.70" stroke="#141414" stroke-width="1.05" />
<line x1="169.50" y1="421.50" x2="169.50" y2="425.70" stroke="#141414" stroke-width="1.05" />
<line x1="182.30" y1="421.50" x2="182.30" y2="425.70" stroke="#141414" stroke-width="1.05" />
<line x1="198.50" y1="421.50" x2="198.50" y2="425.70" stroke="#141414" stroke-width="1.05" />
<line x1="219.70" y1="421.50" x2="219.70" y2="425.70" stroke="#141414" stroke-width="1.05" />
<text transform="translate(83.20,438.20) scale(1.1000,1)" text-anchor="middle" style="font-size:10.0px" fill="#1e1e1e" class="n">20</text>
<text transform="translate(100.70,438.20) scale(1.1000,1)" text-anchor="middle" style="font-size:10.0px" fill="#1e1e1e" class="n">30</text>
<text transform="translate(121.70,438.20) scale(1.1000,1)" text-anchor="middle" style="font-size:10.0px" fill="#1e1e1e" class="n">50</text>
<text transform="translate(151.50,438.20) scale(1.1000,1)" text-anchor="middle" style="font-size:10.0px" fill="#1e1e1e" class="n">100</text>
<text transform="translate(179.80,438.20) scale(1.1000,1)" text-anchor="middle" style="font-size:10.0px" fill="#1e1e1e" class="n">200</text>
<text transform="translate(218.10,438.20) scale(1.1000,1)" text-anchor="middle" style="font-size:10.0px" fill="#1e1e1e" class="n">500</text>
<line x1="422.00" y1="420.50" x2="608.10" y2="420.50" stroke="#141414" stroke-width="1.05" />
<line x1="449.40" y1="420.50" x2="449.40" y2="424.60" stroke="#141414" stroke-width="1.05" />
<line x1="472.30" y1="420.50" x2="472.30" y2="424.60" stroke="#141414" stroke-width="1.05" />
<line x1="490.30" y1="420.50" x2="490.30" y2="424.60" stroke="#141414" stroke-width="1.05" />
<line x1="504.40" y1="420.50" x2="504.40" y2="424.60" stroke="#141414" stroke-width="1.05" />
<line x1="522.40" y1="420.50" x2="522.40" y2="424.60" stroke="#141414" stroke-width="1.05" />
<line x1="542.20" y1="420.50" x2="542.20" y2="424.60" stroke="#141414" stroke-width="1.05" />
<line x1="568.80" y1="420.50" x2="568.80" y2="424.60" stroke="#141414" stroke-width="1.05" />
<line x1="584.40" y1="420.50" x2="584.40" y2="424.60" stroke="#141414" stroke-width="1.05" />
<text transform="translate(472.30,439.50) scale(1.1000,1)" text-anchor="middle" style="font-size:10.0px" fill="#1e1e1e" class="n">30</text>
<text transform="translate(488.70,439.50) scale(1.1000,1)" text-anchor="middle" style="font-size:10.0px" fill="#1e1e1e" class="n">40</text>
<text transform="translate(504.90,439.50) scale(1.1000,1)" text-anchor="middle" style="font-size:10.0px" fill="#1e1e1e" class="n">50</text>
<text transform="translate(522.90,439.50) scale(1.1000,1)" text-anchor="middle" style="font-size:10.0px" fill="#1e1e1e" class="n">70</text>
<text transform="translate(543.00,439.50) scale(1.1000,1)" text-anchor="middle" style="font-size:10.0px" fill="#1e1e1e" class="n">100</text>
<text transform="translate(585.50,439.50) scale(1.1000,1)" text-anchor="middle" style="font-size:10.0px" fill="#1e1e1e" class="n">200</text>
</svg>
</body></html>
